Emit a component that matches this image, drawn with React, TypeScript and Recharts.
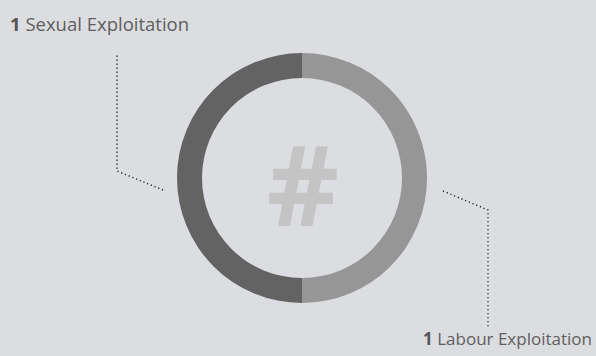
import { PieChart, Pie, Cell, Label } from "recharts";

const categories = ["Sexual Exploitation", "Labour Exploitation"];
const counts = [1, 1];
const colors = ["#636363", "#969696"];

const data = categories.map((name, i) => ({ name, value: counts[i] }));

const W = 596;
const H = 356;
const FONT = "'Open Sans', sans-serif";

// leader line + label for each slice, anchored on the pie centre
function renderLabel(props: any) {
  const { cx, cy, outerRadius, index, payload } = props;
  const left = index === 0;
  const pts = left
    ? [
        [cx - outerRadius - 14, cy + 12],
        [cx - outerRadius - 60, cy - 7],
        [cx - outerRadius - 60, cy - outerRadius],
      ]
    : [
        [cx + outerRadius + 16, cy + 13],
        [cx + outerRadius + 61, cy + 32],
        [cx + outerRadius + 61, cy + 150],
      ];
  return (
    <g>
      <polyline
        points={pts.map((p) => p.join(",")).join(" ")}
        fill="none"
        stroke="#2a2a2a"
        strokeWidth={1.5}
        strokeDasharray="1.2 2.8"
      />
      <text
        x={left ? 10 : W - 4}
        y={left ? 31 : 345}
        textAnchor={left ? "start" : "end"}
        fontFamily={FONT}
        fontSize={left ? 18.5 : 17}
        fill="#5f5f5f"
      >
        <tspan fontWeight={700} fill="#555">
          {payload.value}
        </tspan>
        <tspan> {payload.name}</tspan>
      </text>
    </g>
  );
}

export default function App() {
  return (
    <div style={{ position: "absolute", left: 0, top: 0, width: W, height: H, background: "#dcdde0" }}>
      <PieChart width={W} height={H} margin={{ top: 0, right: 0, bottom: 0, left: 0 }}>
        <Pie
          data={data}
          dataKey="value"
          nameKey="name"
          cx={302}
          cy={178}
          innerRadius={100}
          outerRadius={125}
          startAngle={90}
          endAngle={450}
          stroke="none"
          label={renderLabel}
          labelLine={false}
          isAnimationActive={false}
        >
          {data.map((d, i) => (
            <Cell key={d.name} fill={colors[i]} />
          ))}
          <Label
            value="#"
            position="center"
            fill="#c4c4c4"
            dx={5}
            dy={8}
            style={{ fontSize: 112, fontWeight: 700, fontFamily: FONT }}
          />
        </Pie>
      </PieChart>
    </div>
  );
}
